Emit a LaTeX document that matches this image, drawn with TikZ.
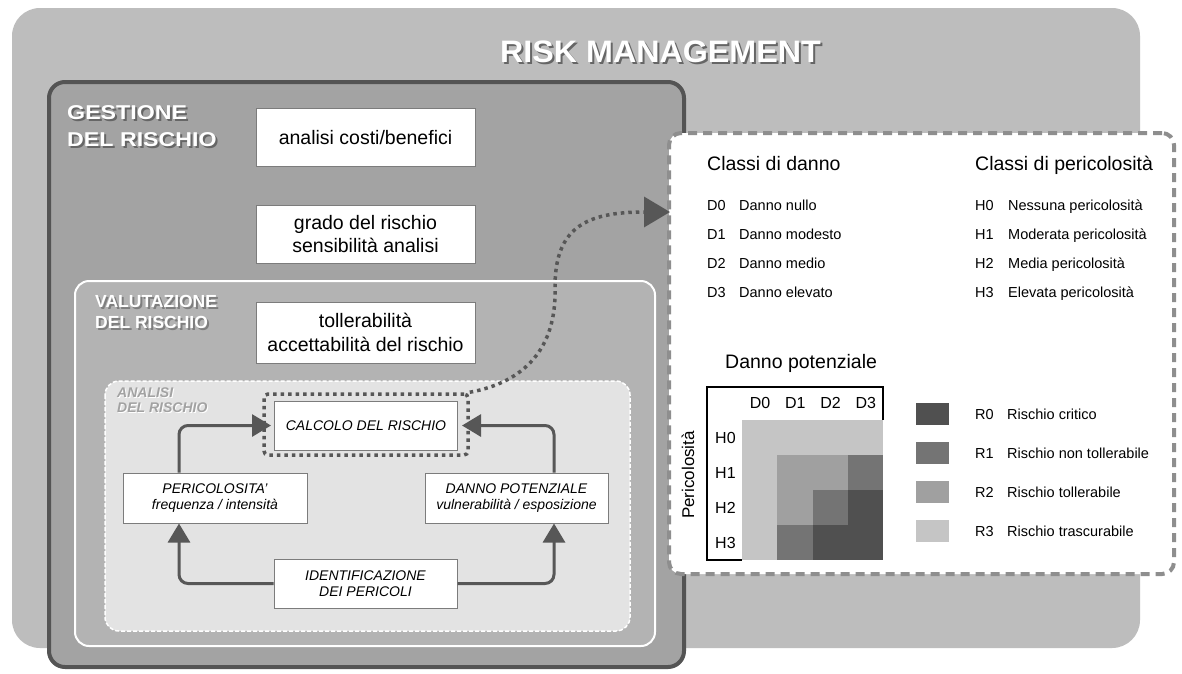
\documentclass[tikz,border=0pt]{standalone}
\usepackage{fontspec}
\setmainfont{Liberation Sans}
\usetikzlibrary{arrows.meta}

\definecolor{outerbg}{HTML}{BDBDBD}
\definecolor{mgmtbg}{HTML}{A3A3A3}
\definecolor{mgmtline}{HTML}{545454}
\definecolor{evalbg}{HTML}{B3B3B3}
\definecolor{anbg}{HTML}{E3E3E3}
\definecolor{boxline}{HTML}{7C7C7C}
\definecolor{flow}{HTML}{575757}
\definecolor{panelline}{HTML}{8E8E8E}
\definecolor{rzero}{HTML}{505050}
\definecolor{rone}{HTML}{747474}
\definecolor{rtwo}{HTML}{A0A0A0}
\definecolor{rthree}{HTML}{C5C5C5}
\definecolor{shade}{HTML}{666666}
\definecolor{lightshade}{HTML}{7E7E7E}
\definecolor{antext}{HTML}{A2A2A2}

% horizontally widened heading text
\newcommand\widetext[1]{\scalebox{1.16}[1]{#1}}

\tikzset{
  textbox/.style={draw=boxline, line width=1pt, fill=white, align=center, inner sep=0pt,
    font=\fontsize{19.5}{23.5}\selectfont, minimum width=219pt, minimum height=58pt},
  cycbox/.style={draw=boxline, line width=1pt, fill=white, align=center, inner sep=0pt,
    font=\fontsize{14}{16.5}\selectfont\itshape, minimum width=183pt, minimum height=49pt},
  flowarrow/.style={draw=flow, line width=3pt, rounded corners=9pt,
    -{Triangle[width=22pt,length=19pt]}},
  dotline/.style={draw=flow, line width=3.5pt, dash pattern=on 3.5pt off 4pt},
  titlefont/.style={font=\fontsize{31}{38}\selectfont\bfseries, inner sep=0pt},
  gestfont/.style={font=\fontsize{20}{24}\selectfont\bfseries, inner sep=0pt},
  valfont/.style={font=\fontsize{17.5}{22}\selectfont\bfseries, inner sep=0pt},
  anfont/.style={font=\fontsize{14}{16}\selectfont\bfseries\itshape, inner sep=0pt},
  headfont/.style={font=\fontsize{19.5}{23}\selectfont, inner sep=0pt},
  smallfont/.style={font=\fontsize{14.5}{17}\selectfont, inner sep=0pt},
  gridfont/.style={font=\fontsize{16}{19}\selectfont, inner sep=0pt},
  swatch/.style={fill=#1, minimum width=33pt, minimum height=22pt, inner sep=0pt},
}

\begin{document}
\begin{tikzpicture}[x=1pt,y=-1pt]
\useasboundingbox (0,0) rectangle (1182,673);
\fill[white] (0,0) rectangle (1182,673);

% risk management frame
\fill[outerbg, rounded corners=28pt] (12,8) rectangle (1140,648);
\node[titlefont, text=shade, anchor=base west] (titleshadow) at (502,64) {\scalebox{1.04}[1]{RISK MANAGEMENT}};
\node[titlefont, text=white, anchor=base west] (title) at (500,62) {\scalebox{1.04}[1]{RISK MANAGEMENT}};

% gestione del rischio
\draw[mgmtline, line width=4pt, fill=mgmtbg, rounded corners=16pt] (49,82) rectangle (684,667);
\foreach \t/\yy/\nm in {GESTIONE/119/gesta, DEL RISCHIO/146/gestb} {
  \node[gestfont, text=shade, anchor=base west] (\nm s) at (69,\yy+2) {\widetext{\t}};
  \node[gestfont, text=white, anchor=base west] (\nm) at (67,\yy) {\widetext{\t}};
}

% valutazione del rischio
\draw[white, line width=2pt, fill=evalbg, rounded corners=14pt] (75,281) rectangle (655,646);
\foreach \t/\yy/\nm in {VALUTAZIONE/307/vala, DEL RISCHIO/328/valb} {
  \node[valfont, text=lightshade, anchor=base west] (\nm s) at (97,\yy+2) {\t};
  \node[valfont, text=white, anchor=base west] (\nm) at (95,\yy) {\t};
}

% analisi del rischio
\draw[white, line width=1.5pt, dash pattern=on 4pt off 2pt, fill=anbg, rounded corners=14pt]
  (105,381) rectangle (630,631);
\foreach \t/\yy/\nm in {ANALISI/397/ana, DEL RISCHIO/412/anb} {
  \node[anfont, text=white, anchor=base west] (\nm s) at (118,\yy+1.5) {\t};
  \node[anfont, text=antext, anchor=base west] (\nm) at (117,\yy) {\t};
}

% management boxes
\node[textbox] (costi) at (365.5,137.5) {analisi costi/benefici};
\node[textbox] (grado) at (365.5,234) {grado del rischio\\sensibilità analisi};
\node[textbox, minimum height=61pt] (toll) at (365.5,332.5) {tollerabilità\\accettabilità del rischio};

% analysis cycle
\node[dotline, rounded corners=4pt, minimum width=204pt, minimum height=61pt] (calcframe) at (366,424.5) {};
\node[cycbox] (calc) at (366,425.5) {CALCOLO DEL RISCHIO};
\node[cycbox, minimum width=184pt, minimum height=50pt] (peric) at (215,498) {PERICOLOSITA'\\frequenza / intensità};
\node[cycbox, minimum width=183pt, minimum height=50pt] (danno) at (516.5,498) {DANNO POTENZIALE\\vulnerabilità / esposizione};
\node[cycbox] (ident) at (365.5,583.5) {IDENTIFICAZIONE\\DEI PERICOLI};

\coordinate (lx) at (179,425);
\coordinate (rx) at (554,425);
\draw[flowarrow] (peric.north -| lx) |- ([xshift=-3pt]calc.west);
\draw[flowarrow] (danno.north -| rx) |- ([xshift=4pt]calc.east);
\draw[flowarrow] (ident.west) -| (peric.south -| lx);
\draw[flowarrow] (ident.east) -| (danno.south -| rx);

% classification panel
\node[draw=panelline, line width=4pt, dash pattern=on 9pt off 6pt, fill=white,
  rounded corners=12pt, minimum width=505pt, minimum height=441pt, inner sep=0pt]
  (panel) at (921.5,353.5) {};

\coordinate (arrowend) at (670,212);
\draw[dotline, -{Triangle[width=30pt,length=26pt]}] (calcframe.north east)
  .. controls (525,382) and (556,348) .. (555,290)
  .. controls (554,228) and (585,212) .. (arrowend);

\node[headfont, anchor=base west] (dhead) at (707,170) {Classi di danno};
\node[headfont, anchor=base west] (hhead) at (975,170) {Classi di pericolosità};
\foreach \dcode/\dtext/\hcode/\htext [count=\i from 0] in
  {D0/Danno nullo/H0/Nessuna pericolosità,
   D1/Danno modesto/H1/Moderata pericolosità,
   D2/Danno medio/H2/Media pericolosità,
   D3/Danno elevato/H3/Elevata pericolosità} {
  \node[smallfont, anchor=base west] (dc\i) at (707,210+29*\i) {\dcode};
  \node[smallfont, anchor=base west] (dt\i) at (739,210+29*\i) {\dtext};
  \node[smallfont, anchor=base west] (hc\i) at (975,210+29*\i) {\hcode};
  \node[smallfont, anchor=base west] (ht\i) at (1008,210+29*\i) {\htext};
}

% risk matrix
\node[headfont, anchor=base west] (mhead) at (725,368) {Danno potenziale};
\draw[black, line width=1.2pt] (883,420) -- (883,387) -- (707,387) -- (707,560) -- (742,560);
\foreach \r/\c/\col in {0/0/rthree,0/1/rthree,0/2/rthree,0/3/rthree,
                        1/0/rthree,1/1/rtwo,1/2/rtwo,1/3/rone,
                        2/0/rthree,2/1/rtwo,2/2/rone,2/3/rzero,
                        3/0/rthree,3/1/rone,3/2/rzero,3/3/rzero}
  \fill[\col] (742+35.25*\c,420+35*\r) rectangle (742+35.25*\c+35.25,420+35*\r+35);
\foreach \i in {0,...,3} {
  \node[gridfont, anchor=base] (col\i) at (760+35.25*\i,408) {D\i};
  \node[gridfont, anchor=base west] (row\i) at (715,443+35*\i) {H\i};
}
\node[gridfont, font=\fontsize{17}{20}\selectfont, rotate=90] (hlabel) at (688,475) {Pericolosità};

% legend
\foreach \col/\code/\lab [count=\i from 0] in
  {rzero/R0/Rischio critico, rone/R1/Rischio non tollerabile,
   rtwo/R2/Rischio tollerabile, rthree/R3/Rischio trascurabile} {
  \node[swatch=\col] (sw\i) at (932.5,414+39*\i) {};
  \node[smallfont, anchor=base west] (lc\i) at (975,419+39*\i) {\code};
  \node[smallfont, anchor=base west] (lt\i) at (1007,419+39*\i) {\lab};
}
\end{tikzpicture}
\end{document}
